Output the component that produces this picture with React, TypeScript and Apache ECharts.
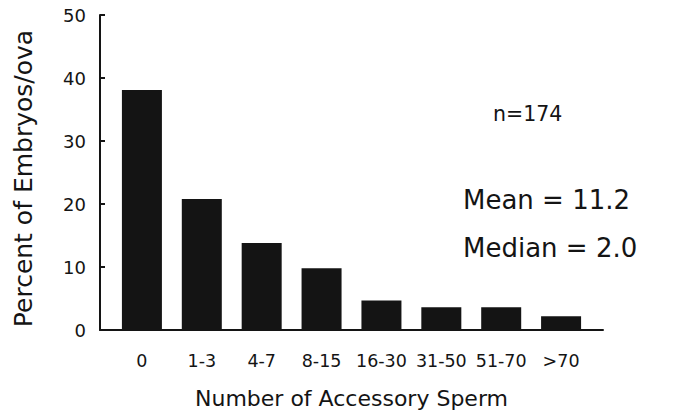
import React, { useEffect, useRef } from "react";
import * as echarts from "echarts";

const categories = ["0", "1-3", "4-7", "8-15", "16-30", "31-50", "51-70", ">70"];
const percentValues = [38.1, 20.8, 13.8, 9.8, 4.7, 3.6, 3.6, 2.2];
const yTicks = [0, 10, 20, 30, 40, 50];
const annotations = ["n=174", "Mean = 11.2", "Median = 2.0"];

const FONT = "DejaVu Sans";
const INK = "#141414";

export default function App() {
  const ref = useRef<HTMLDivElement>(null);
  useEffect(() => {
    if (!ref.current) return;
    const chart = echarts.init(ref.current, null, { renderer: "svg" });
    chart.setOption({
      animation: false,
      backgroundColor: "#ffffff",
      grid: { left: 100, right: 90, top: 15, bottom: 81, containLabel: false },
      xAxis: {
        type: "value",
        min: -0.7,
        max: 7.7,
        splitLine: { show: false },
        axisLine: { show: true, onZero: false, lineStyle: { color: INK, width: 2 } },
        axisTick: { show: false },
        axisLabel: {
          customValues: categories.map((_, i) => i),
          formatter: (v: number) => categories[Math.round(v)] ?? "",
          color: INK,
          fontFamily: FONT,
          fontSize: 17.5,
          margin: 22,
        },
        name: "Number of Accessory Sperm",
        nameLocation: "middle",
        nameGap: 57,
        nameTextStyle: { color: INK, fontFamily: FONT, fontSize: 22 },
      },
      yAxis: {
        type: "value",
        min: yTicks[0],
        max: yTicks[yTicks.length - 1],
        interval: 10,
        splitLine: { show: false },
        axisLine: { show: true, onZero: false, lineStyle: { color: INK, width: 2 } },
        axisTick: { show: true, inside: true, length: 5, lineStyle: { color: INK, width: 2 } },
        axisLabel: { color: INK, fontFamily: FONT, fontSize: 18, margin: 14, padding: [8, 0, 0, 0] },
        name: "Percent of Embryos/ova",
        nameLocation: "middle",
        nameGap: 64,
        nameTextStyle: { color: INK, fontFamily: FONT, fontSize: 25, padding: [0, 12, 0, 0] },
      },
      series: [
        {
          type: "bar",
          data: percentValues.map((v, i) => [i, v]),
          barWidth: 40,
          itemStyle: { color: INK },
        },
      ],
      graphic: [
        {
          type: "text",
          left: 493,
          top: 103,
          style: { text: annotations[0], fill: INK, font: `20.5px "${FONT}"` },
        },
        {
          type: "text",
          left: 463,
          top: 187,
          style: { text: annotations[1], fill: INK, font: `26px "${FONT}"` },
        },
        {
          type: "text",
          left: 463,
          top: 235,
          style: { text: annotations[2], fill: INK, font: `26px "${FONT}"` },
        },
      ],
    });
    return () => chart.dispose();
  }, []);
  return <div ref={ref} style={{ width: 693, height: 414, position: "absolute", left: 0, top: 0 }} />;
}
